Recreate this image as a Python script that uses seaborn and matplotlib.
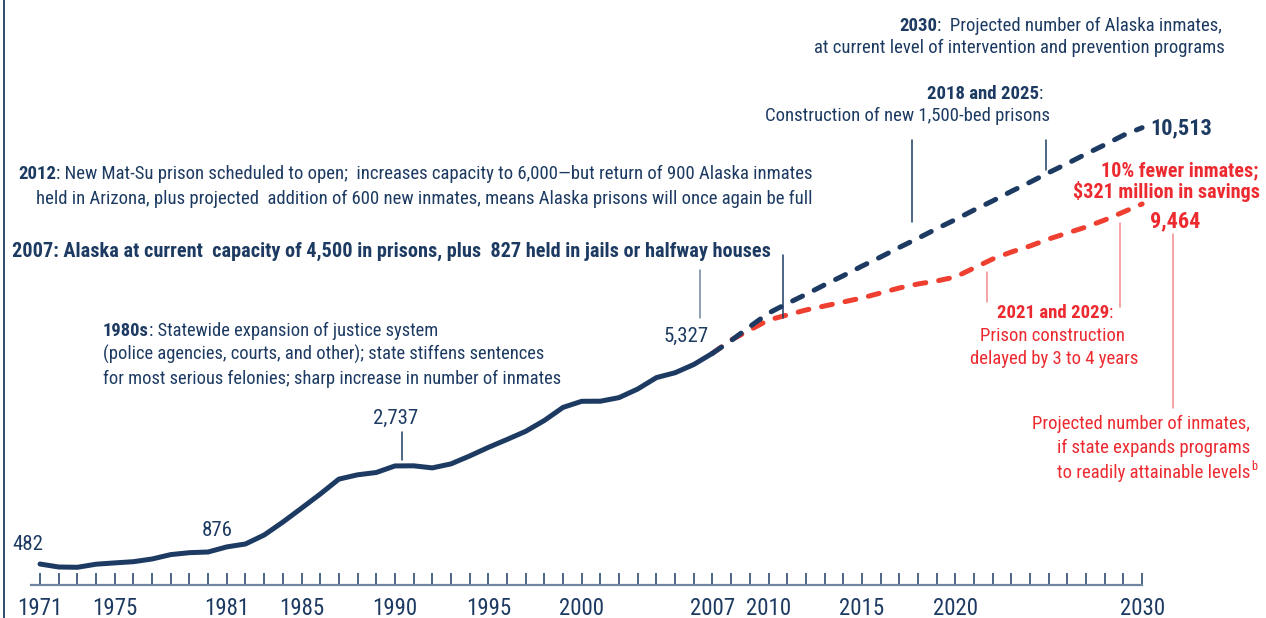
import matplotlib
matplotlib.use("Agg")
import matplotlib.pyplot as plt
from matplotlib.lines import Line2D
from matplotlib.transforms import IdentityTransform
import numpy as np
import pandas as pd
import seaborn as sns

# ---------------- data ----------------
years_hist = list(range(1971, 2008))
inmates_hist = [482, 414, 407, 478, 508, 536, 598, 699, 743, 759,
                876, 943, 1149, 1446, 1766, 2090, 2434, 2533, 2586, 2737,
                2740, 2692, 2784, 2966, 3163, 3345, 3533, 3782, 4083, 4223,
                4225, 4308, 4506, 4768, 4880, 5069, 5327]
years_proj = list(range(2007, 2031))
current_programs = [5327, 5620, 5940, 6250, 6470, 6680, 6900, 7110, 7330, 7540,
                    7760, 7970, 8190, 8400, 8620, 8830, 9050, 9260, 9480, 9690,
                    9910, 10120, 10340, 10513]
expanded_programs = [5327, 5632, 5862, 6092, 6207, 6322, 6414, 6506, 6598, 6713,
                     6828, 6920, 6989, 7080, 7287, 7494, 7655, 7793, 7954, 8092,
                     8230, 8391, 8575, 8759]
label_years = [1971, 1975, 1981, 1985, 1990, 1995, 2000, 2007, 2010, 2015, 2020, 2030]

NAVY = "#1d3b62"
RED = "#ec2a30"
RED2 = "#ef3f30"
REDLEAD = "#f28a8c"
AXGRAY = "#7086a0"

W, H = 1266, 618
sns.set_theme(style="white")
plt.rcParams["font.family"] = ["Liberation Sans Narrow", "Roboto Condensed",
                               "Open Sans Condensed", "DejaVu Sans"]

fig = plt.figure(figsize=(W / 100, H / 100), dpi=100)
ax = fig.add_axes([4 / W, 0, 1 - 4 / W, 1])

PXYR = 18.68
def yr(px):
    return 1971 + (px - 40) / PXYR
VPX = 0.0435
def val(py):
    return (585 - py) / VPX

ax.set_xlim(yr(4), yr(W))
ax.set_ylim(val(H), val(0))

df_h = pd.DataFrame({"year": years_hist, "inmates": inmates_hist})
df_c = pd.DataFrame({"year": years_proj, "inmates": current_programs})
df_e = pd.DataFrame({"year": years_proj, "inmates": expanded_programs})

sns.lineplot(data=df_e, x="year", y="inmates", ax=ax, color=RED2, linewidth=3.6,
             linestyle=(0, (2.2, 2.6)), dash_capstyle="round")
sns.lineplot(data=df_c, x="year", y="inmates", ax=ax, color=NAVY, linewidth=3.6,
             linestyle=(0, (2.2, 2.6)), dash_capstyle="round")
sns.lineplot(data=df_h, x="year", y="inmates", ax=ax, color=NAVY, linewidth=3.6,
             solid_capstyle="round", solid_joinstyle="round")

ax.set_xlabel("")
ax.set_ylabel("")
ax.set_yticks([])
for s in ["top", "right"]:
    ax.spines[s].set_visible(False)
ax.spines["left"].set_color(NAVY)
ax.spines["left"].set_linewidth(1.3)
ax.spines["bottom"].set_position(("data", 0))
ax.spines["bottom"].set_bounds(yr(31), 2030)
ax.spines["bottom"].set_color(AXGRAY)
ax.spines["bottom"].set_linewidth(1.6)
ax.set_xticks(label_years)
ax.set_xticklabels([str(y) for y in label_years])
ax.set_xticks(list(range(1971, 2031)), minor=True)
ax.tick_params(axis="x", which="both", direction="in", length=8.6, width=1.1,
               color=NAVY, bottom=True)
ax.tick_params(axis="x", which="major", labelsize=16.5, labelcolor=NAVY, pad=8.5)

renderer = fig.canvas.get_renderer()
ID = IdentityTransform()

def rich(x, ybase, parts, ha="left", color=NAVY, size=13.5):
    texts = []
    for s, b in parts:
        t = fig.text(0, 0, s, color=color, fontsize=size,
                     fontweight="bold" if b else "normal",
                     va="baseline", ha="left", transform=ID)
        texts.append(t)
    widths = [t.get_window_extent(renderer).width for t in texts]
    total = sum(widths)
    if ha == "left":
        x0 = x
    elif ha == "right":
        x0 = x - total
    else:
        x0 = x - total / 2
    for t, w in zip(texts, widths):
        t.set_position((x0, H - ybase))
        x0 += w
    return x0

def lead(x, y1, y2, color=NAVY, lw=1.1):
    fig.add_artist(Line2D([x, x], [H - y1, H - y2], transform=ID, color=color, lw=lw))

# top-right annotations
rich(1222, 31, [("2030", True), (":  Projected number of Alaska inmates,", False)], ha="right")
rich(1225, 53, [("at current level of intervention and prevention programs", False)], ha="right")
rich(1043, 99, [("2018 and 2025", True), (":", False)], ha="right")
rich(1050, 121, [("Construction of new 1,500-bed prisons", False)], ha="right")
rich(1181, 134, [("10,513", True)], ha="center", size=16)
lead(912, 140, 222)
lead(1046, 140, 170)

rich(1258, 176, [("10% fewer inmates;", True)], ha="right", color=RED, size=14.5)
rich(1260, 198, [("$321 million in savings", True)], ha="right", color=RED, size=14.5)
rich(1175, 227, [("9,464", True)], ha="center", color=RED, size=16)
lead(1173, 234, 408, color=REDLEAD)
lead(1120, 223, 307, color=REDLEAD)
lead(987, 272, 302, color=REDLEAD)

rich(1055, 318, [("2021 and 2029", True), (":", False)], ha="center", color=RED)
rich(1052, 341, [("Prison construction", False)], ha="center", color=RED)
rich(1054, 364, [("delayed by 3 to 4 years", False)], ha="center", color=RED)

rich(1250, 429, [("Projected number of inmates,", False)], ha="right", color=RED)
rich(1250, 453, [("if state expands programs", False)], ha="right", color=RED)
xe = rich(1250, 478, [("to readily attainable levels", False)], ha="right", color=RED)
fig.text(xe + 1, H - 470, "b", color=RED, fontsize=9, va="baseline", ha="left", transform=ID)

# left annotations
rich(813, 179, [("2012", True), (": New Mat-Su prison scheduled to open;  increases capacity to 6,000\u2014but return of 900 Alaska inmates", False)], ha="right")
rich(813, 204, [("held in Arizona, plus projected  addition of 600 new inmates, means Alaska prisons will once again be full", False)], ha="right")
lead(783, 255, 318)
rich(12, 257, [("2007: Alaska at current  capacity of 4,500 in prisons, plus  827 held in jails or halfway houses", True)], ha="left", size=14.6)
lead(700, 270, 318, color=AXGRAY)
rich(686, 342, [("5,327", False)], ha="center", size=15)

rich(103, 336, [("1980s", True), (": Statewide expansion of justice system", False)], size=13.3)
rich(103, 360, [("(police agencies, courts, and other); state stiffens sentences", False)], size=13.3)
rich(103, 384, [("for most serious felonies; sharp increase in number of inmates", False)], size=13.3)

rich(396, 424, [("2,737", False)], ha="center", size=15)
lead(402, 432, 460)
rich(217, 536, [("876", False)], ha="center", size=15)
rich(28, 550, [("482", False)], ha="center", size=15)

fig.savefig("out.png", dpi=100)
